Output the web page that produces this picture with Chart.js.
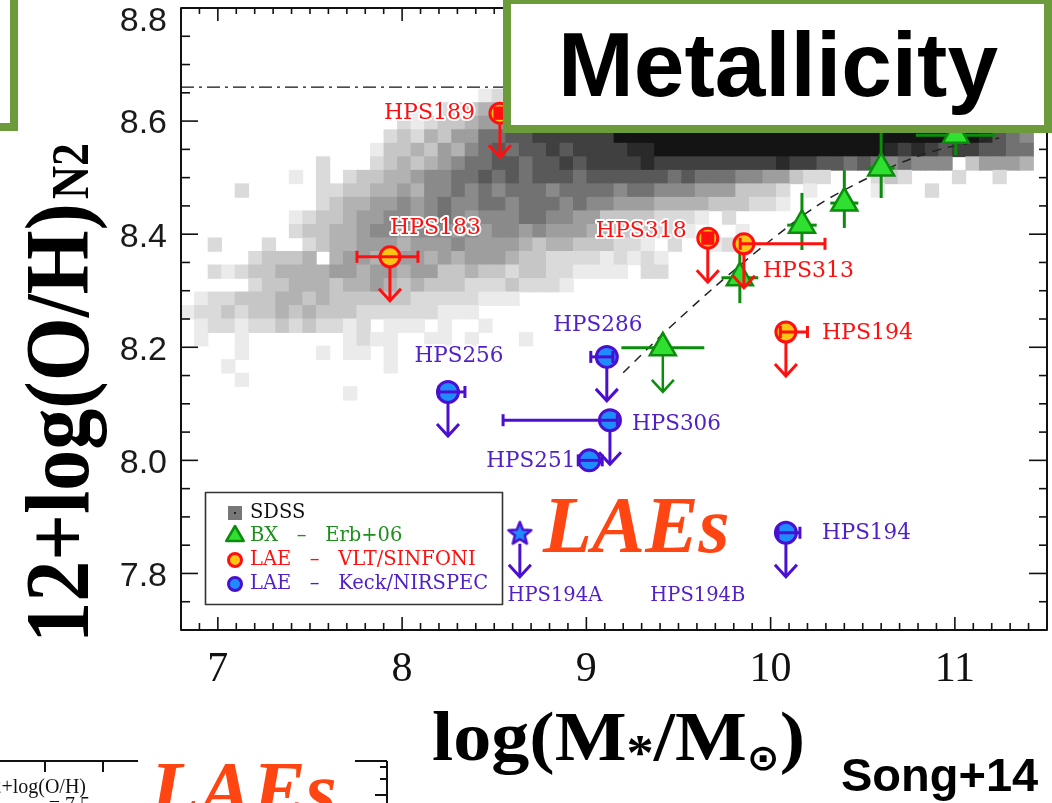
<!DOCTYPE html>
<html><head><meta charset="utf-8">
<script src="https://cdn.jsdelivr.net/npm/chart.js@4.4.1/dist/chart.umd.min.js"></script>
<style>html,body{margin:0;padding:0;background:#fff;overflow:hidden}canvas{display:block}</style>
</head><body>
<canvas id="c" width="1052" height="803"></canvas>
<script>
// ================= DATA =================
const xTicks = [7, 8, 9, 10, 11];
const yTicks = [7.8, 8.0, 8.2, 8.4, 8.6, 8.8];

// SDSS 2D histogram: grey level per bin (0 empty, 1..9,A,B light..dark); first row = bin row 39
const sdssMassRange = [6.8, 11.5];
const sdssMassBins = 64;
const sdssOHRange = [7.7, 8.8];
const sdssOHBins = 46;
const sdssTopRow = 39;
const sdssRows = [
  "00000000 00000000 00000012 00000000 00000000 00000000 00000000 00000000",
  "00000000 00000000 01022344 00000000 00000000 00000000 00000000 00000000",
  "00000000 00000000 21233455 00000000 00000000 00000000 00000000 00000000",
  "00000000 00000002 32435577 88999999 BBBBBBBB BBBBBBBB BBBBBBBB BBBA8760",
  "00000000 00000013 34354678 78898999 9AABBBBB BBBBBBBB BBBBA9A9 89988770",
  "00000000 00200023 43456778 87889899 99A99999 9999A998 87876766 60355540",
  "00000000 10202334 45667787 87888788 88887877 76655322 00023200 02002000",
  "00002000 00223344 54667676 77767777 67766655 53332010 00010002 00000000",
  "00000000 00234455 65676677 67776766 55544443 33221000 00000000 00000000",
  "00000000 12334556 65676566 67766553 33322210 20000000 00000000 00000000",
  "00000000 23344566 56665656 65655544 33322100 01000000 00000000 00000000",
  "00200020 02344555 45556555 54344333 22102001 21000000 00000000 00000000",
  "00000233 34045545 55454555 43322221 21210000 00000000 00000000 00000000",
  "00212334 44455455 45533433 23322111 10220000 00000000 00000000 00000000",
  "00000233 44434454 34333222 32221000 00000000 00000000 00000000 00000000",
  "01223334 43433333 32222211 10000000 00000000 00000000 00000000 00000000",
  "12232334 34333222 22211100 00000000 00000000 00000000 00000000 00000000",
  "01221223 23221201 11010010 00000000 00000000 00000000 00000000 00000000",
  "01001000 00001211 00110100 01000000 00000000 00000000 00000000 00000000",
  "00001000 00101101 00000000 00000000 00000000 00000000 00000000 00000000",
  "00010000 00000001 00000000 00000000 00000000 00000000 00000000 00000000",
  "00001000 00000000 00000000 00000000 00000000 00000000 00000000 00000000",
  "00000000 00001000 00000000 00000000 00000000 00000000 00000000 00000000"
];

// BX - Erb+06
const bxMass      = [9.415, 9.833, 10.17, 10.40, 10.60, 11.005];
const bxOH        = [8.199, 8.323, 8.416, 8.455, 8.517, 8.575];
const bxMassErr   = [0.225, 0.10, 0.08, 0.076, 0.073, 0.217];
const bxOHErrUp   = [0, 0.045, 0.057, 0.058, 0.062, 0.06];
const bxOHErrDn   = [0, 0.045, 0.044, 0.044, 0.053, 0.035];
const bxUpperLim  = [true, false, false, false, false, false];

// Erb+06 relation (dashed)
const fitMass = [9.2, 9.42, 9.69, 9.98, 10.25, 10.47, 10.72, 10.94, 11.24];
const fitOH   = [8.155, 8.225, 8.305, 8.384, 8.45, 8.49, 8.528, 8.552, 8.57];

// N2 saturation level (dash-dot)
const satMass = [6.8, 11.5];
const satOH   = [8.66, 8.66];

// LAE - VLT/SINFONI
const vltNames     = ['HPS189', 'HPS183', 'HPS318', 'HPS313', 'HPS194'];
const vltMass      = [8.531, 7.934, 9.659, 9.855, 10.083];
const vltOH        = [8.614, 8.360, 8.393, 8.383, 8.227];
const vltMassErrLo = [0.03, 0.179, 0.03, 0.02, 0.03];
const vltMassErrHi = [0.03, 0.152, 0.03, 0.44, 0.117];
const vltOHErr     = [0.01, 0, 0.01, 0, 0];
const vltUpperLim  = [true, true, true, true, true];

// LAE - Keck/NIRSPEC
const keckNames     = ['HPS286', 'HPS256', 'HPS306', 'HPS251', 'HPS194'];
const keckMass      = [9.111, 8.249, 9.128, 9.016, 10.083];
const keckOH        = [8.183, 8.121, 8.071, 8.000, 7.872];
const keckMassErrLo = [0.087, 0.05, 0.58, 0.06, 0.043];
const keckMassErrHi = [0.033, 0.092, 0.04, 0.07, 0.076];
const keckUpperLim  = [true, true, true, false, true];

// Keck star (HPS194A) and label-only object (HPS194B)
const starNames = ['HPS194A'];
const starMass  = [8.639];
const starOH    = [7.872];
const starUpperLim = [true];
const extraNames = ['HPS194B'];
const extraMass  = [9.605];
const extraOH    = [7.872];

// ================= STYLE / LAYOUT =================
const COL = {
  red: '#ff1010', orange: '#ffc414', purple: '#4a0fd0', blue: '#1e8cff', blueText: '#5020c8',
  green: '#0c8c0c', greenFill: '#30e030', greenText: '#1f8f1f', lae: '#ff4511', box: '#6b9b3a'
};
const SHADES = {'1':'#ebebeb','2':'#dadada','3':'#c6c6c6','4':'#b2b2b2','5':'#9e9e9e','6':'#8a8a8a',
  '7':'#727272','8':'#595959','9':'#404040','A':'#2a2a2a','B':'#141414'};
const vltLabelPos  = [[-25, 0, 'right'], [0, -29, 'left'], [-21, -7, 'right'], [19, 27, 'left'], [36, 1, 'left']];
const keckLabelPos = [[-9, -31, 'center'], [11, -36, 'center'], [22, 4, 'left'], [-14, 1, 'right'], [36, 1, 'left']];
const starLabelPos = [[35, 63, 'center']];
const extraLabelPos = [[0, 63, 'center']];
const ARROW = 44, CAP = 6;

// ================= BUILD =================
const cellW = (sdssMassRange[1] - sdssMassRange[0]) / sdssMassBins;
const cellH = (sdssOHRange[1] - sdssOHRange[0]) / sdssOHBins;
const sdssPts = [], sdssCols = [];
sdssRows.forEach((row, r) => {
  const s = row.replace(/ /g, '');
  const k = sdssTopRow - r;
  for (let j = 0; j < s.length; j++) {
    if (s[j] === '0') continue;
    sdssPts.push({x: sdssMassRange[0] + (j + 0.5) * cellW, y: sdssOHRange[0] + (k + 0.5) * cellH});
    sdssCols.push(SHADES[s[j]]);
  }
});
const zip = (xs, ys) => xs.map((x, i) => ({x, y: ys[i]}));

function makeStar(R, r, fill, stroke, lw) {
  const s = Math.ceil(2 * R + 2 * lw + 4);
  const cv = document.createElement('canvas'); cv.width = s; cv.height = s;
  const g = cv.getContext('2d');
  g.translate(s / 2, s / 2 + R * 0.1);
  g.beginPath();
  for (let i = 0; i < 10; i++) {
    const a = -Math.PI / 2 + i * Math.PI / 5, rr = i % 2 ? r : R;
    g.lineTo(rr * Math.cos(a), rr * Math.sin(a));
  }
  g.closePath(); g.fillStyle = fill; g.fill();
  g.lineWidth = lw; g.lineJoin = 'round'; g.strokeStyle = stroke; g.stroke();
  return cv;
}
const starImg = makeStar(12, 5.2, COL.blue, COL.purple, 2.5);

function ln(ctx, x1, y1, x2, y2) { ctx.beginPath(); ctx.moveTo(x1, y1); ctx.lineTo(x2, y2); ctx.stroke(); }
function arrowDown(ctx, x, y0, y1) {
  ln(ctx, x, y0, x, y1);
  ctx.beginPath(); ctx.moveTo(x - 11, y1 - 12); ctx.lineTo(x, y1); ctx.lineTo(x + 11, y1 - 12); ctx.stroke();
}
function hErr(ctx, xl, xr, y) {
  ln(ctx, xl, y, xr, y); ln(ctx, xl, y - CAP, xl, y + CAP); ln(ctx, xr, y - CAP, xr, y + CAP);
}
function label(ctx, text, x, y, color, size, align) {
  ctx.font = size + 'px "DejaVu Serif"'; ctx.textAlign = align; ctx.textBaseline = 'middle';
  ctx.lineJoin = 'round'; ctx.strokeStyle = '#fff'; ctx.lineWidth = 4; ctx.strokeText(text, x, y);
  ctx.fillStyle = color; ctx.fillText(text, x, y);
}
// draw text stretched along its direction to a target length
function fitText(ctx, text, x, y, target) {
  const w = ctx.measureText(text).width;
  ctx.save(); ctx.translate(x, y); ctx.scale(target / w, 1); ctx.fillText(text, 0, 0); ctx.restore();
}

const overlay = {
  id: 'overlay',
  beforeDatasetDraw(chart, args) {
    if (args.index !== 3) return;
    const ctx = chart.ctx, X = v => chart.scales.x.getPixelForValue(v), Y = v => chart.scales.y.getPixelForValue(v);
    ctx.save(); ctx.strokeStyle = COL.green; ctx.lineWidth = 3; ctx.lineCap = 'butt';
    bxMass.forEach((m, i) => {
      const x = X(m), y = Y(bxOH[i]);
      ln(ctx, X(m - bxMassErr[i]), y, X(m + bxMassErr[i]), y);
      if (bxUpperLim[i]) { ctx.lineWidth = 2.5; arrowDown(ctx, x, y, y + ARROW); ctx.lineWidth = 3; }
      else ln(ctx, x, Y(bxOH[i] + bxOHErrUp[i]), x, Y(bxOH[i] - bxOHErrDn[i]));
    });
    ctx.restore();
  },
  afterDatasetDraw(chart, args) {
    const ctx = chart.ctx, X = v => chart.scales.x.getPixelForValue(v), Y = v => chart.scales.y.getPixelForValue(v);
    ctx.save(); ctx.lineWidth = 3; ctx.lineCap = 'butt'; ctx.lineJoin = 'miter';
    if (args.index === 0) {
      ctx.strokeStyle = COL.red; ctx.fillStyle = COL.red;
      vltMass.forEach((m, i) => {
        const x = X(m), y = Y(vltOH[i]);
        if (vltOHErr[i] > 0) {
          const xl = X(m - vltMassErrLo[i]), xr = X(m + vltMassErrHi[i]);
          const yt = Y(vltOH[i] + vltOHErr[i]), yb = Y(vltOH[i] - vltOHErr[i]);
          ctx.fillRect(xl - 1, yt - 1, xr - xl + 2, yb - yt + 2);
        } else {
          hErr(ctx, X(m - vltMassErrLo[i]), X(m + vltMassErrHi[i]), y);
        }
        if (vltUpperLim[i]) arrowDown(ctx, x, y + 11, y + ARROW);
      });
    } else if (args.index === 1) {
      ctx.strokeStyle = COL.purple;
      keckMass.forEach((m, i) => {
        const x = X(m), y = Y(keckOH[i]);
        hErr(ctx, X(m - keckMassErrLo[i]), X(m + keckMassErrHi[i]), y);
        if (keckUpperLim[i]) arrowDown(ctx, x, y + 11, y + ARROW);
      });
    } else if (args.index === 2) {
      ctx.strokeStyle = COL.purple;
      starMass.forEach((m, i) => { const x = X(m), y = Y(starOH[i]); if (starUpperLim[i]) arrowDown(ctx, x, y + 11, y + ARROW); });
    }
    ctx.restore();
  },
  afterDatasetsDraw(chart) {
    const ctx = chart.ctx, X = v => chart.scales.x.getPixelForValue(v), Y = v => chart.scales.y.getPixelForValue(v);
    const a = chart.chartArea;
    ctx.save();
    // labels
    vltNames.forEach((n, i) => { const p = vltLabelPos[i]; label(ctx, n, X(vltMass[i]) + p[0], Y(vltOH[i]) + p[1], COL.red, 22, p[2]); });
    keckNames.forEach((n, i) => { const p = keckLabelPos[i]; label(ctx, n, X(keckMass[i]) + p[0], Y(keckOH[i]) + p[1], COL.blueText, 21.5, p[2]); });
    starNames.forEach((n, i) => { const p = starLabelPos[i]; label(ctx, n, X(starMass[i]) + p[0], Y(starOH[i]) + p[1], COL.blueText, 19.5, p[2]); });
    extraNames.forEach((n, i) => { const p = extraLabelPos[i]; label(ctx, n, X(extraMass[i]) + p[0], Y(extraOH[i]) + p[1], COL.blueText, 19.5, p[2]); });
    // LAEs
    ctx.font = 'italic bold 80px "Liberation Serif"'; ctx.textAlign = 'left'; ctx.textBaseline = 'alphabetic';
    ctx.fillStyle = COL.lae; ctx.fillText('LAEs', 543, 552);
    // legend
    ctx.fillStyle = '#fff'; ctx.fillRect(205, 492, 298, 113);
    ctx.strokeStyle = '#333'; ctx.lineWidth = 1.6; ctx.strokeRect(205.5, 492.5, 297, 112);
    const lx = 235, tx = 250, ly = [513, 536, 560, 584];
    ctx.fillStyle = '#777'; ctx.fillRect(lx - 7, ly[0] - 7, 14, 14);
    ctx.fillStyle = '#222'; ctx.fillRect(lx - 1, ly[0] - 1, 2, 2);
    ctx.beginPath(); ctx.moveTo(lx, ly[1] - 10); ctx.lineTo(lx + 8.7, ly[1] + 5); ctx.lineTo(lx - 8.7, ly[1] + 5); ctx.closePath();
    ctx.fillStyle = COL.greenFill; ctx.fill(); ctx.strokeStyle = COL.green; ctx.lineWidth = 2.5; ctx.stroke();
    ctx.beginPath(); ctx.arc(lx, ly[2], 6.5, 0, 2 * Math.PI); ctx.fillStyle = COL.orange; ctx.fill(); ctx.strokeStyle = COL.red; ctx.lineWidth = 3; ctx.stroke();
    ctx.beginPath(); ctx.arc(lx, ly[3], 6.5, 0, 2 * Math.PI); ctx.fillStyle = COL.blue; ctx.fill(); ctx.strokeStyle = COL.purple; ctx.lineWidth = 3; ctx.stroke();
    ctx.font = '19.5px "DejaVu Serif"'; ctx.textAlign = 'left'; ctx.textBaseline = 'middle';
    ctx.fillStyle = '#111'; ctx.fillText('SDSS', tx, ly[0]);
    ctx.fillStyle = COL.greenText; ctx.fillText('BX   \u2013   Erb+06', tx, ly[1]);
    ctx.fillStyle = COL.red; ctx.fillText('LAE   \u2013   VLT/SINFONI', tx, ly[2]);
    ctx.fillStyle = COL.blueText; ctx.fillText('LAE   \u2013   Keck/NIRSPEC', tx, ly[3]);
    // frame + ticks
    ctx.strokeStyle = '#111'; ctx.lineWidth = 2;
    ctx.strokeRect(a.left, a.top, a.right - a.left, a.bottom - a.top);
    ctx.lineWidth = 1.6;
    for (let i = 68; i <= 115; i++) {
      const x = X(i / 10), major = i % 10 === 0;
      ln(ctx, x, a.bottom, x, a.bottom - (major ? 13 : 7));
      ln(ctx, x, a.top, x, a.top + (major ? 13 : 6));
    }
    for (let i = 154; i <= 176; i++) {
      const y = Y(i / 20), major = i % 4 === 0;
      ln(ctx, a.left, y, a.left + (major ? 17 : 9), y);
      ln(ctx, a.right, y, a.right - (major ? 18 : 8), y);
    }
    // tick labels from the scales
    ctx.font = '34px "Liberation Sans"'; ctx.fillStyle = '#1a1a1a'; ctx.textAlign = 'right'; ctx.textBaseline = 'middle';
    yTicks.forEach(v => ctx.fillText(v.toFixed(1), a.left - 14, Y(v) + (v >= 8.79 ? 14 : 3)));
    ctx.font = '42px "Liberation Serif"'; ctx.fillStyle = '#111'; ctx.textAlign = 'center';
    xTicks.forEach(v => ctx.fillText(String(v), X(v), a.bottom + 40));
    ctx.restore();
  },
  afterDraw(chart) {
    const ctx = chart.ctx;
    ctx.save();
    // y title
    ctx.translate(88, 643); ctx.rotate(-Math.PI / 2);
    ctx.fillStyle = '#000'; ctx.textAlign = 'left'; ctx.textBaseline = 'alphabetic';
    ctx.font = 'bold 90px "Liberation Serif"'; fitText(ctx, '12+log(O/H)', 0, 0, 440);
    ctx.font = 'bold 52px "Liberation Serif"'; fitText(ctx, 'N2', 444, 0, 56);
    ctx.restore();
    ctx.save();
    // x title
    const parts = [['log(M', 70, 0], ['*', 50, 9], ['/M', 70, 0], ['\u2299', 36, 10], [')', 70, 0]];
    let tot = 0;
    parts.forEach(p => { ctx.font = 'bold ' + p[1] + 'px "Liberation Serif", "DejaVu Sans"'; tot += ctx.measureText(p[0]).width; });
    const sx = 373 / tot;
    ctx.translate(432, 760); ctx.scale(sx, 1);
    let x = 0;
    ctx.fillStyle = '#000'; ctx.textAlign = 'left'; ctx.textBaseline = 'alphabetic';
    parts.forEach(p => { ctx.font = 'bold ' + p[1] + 'px "Liberation Serif", "DejaVu Sans"'; ctx.fillText(p[0], x, p[2]); x += ctx.measureText(p[0]).width; });
    ctx.restore();
    ctx.save();
    // Song+14
    ctx.fillStyle = '#000'; ctx.textAlign = 'left'; ctx.textBaseline = 'alphabetic';
    ctx.font = 'bold 47px "Liberation Sans"'; ctx.fillText('Song+14', 841, 791);
    // Metallicity box
    ctx.fillStyle = '#fff'; ctx.fillRect(503, -4, 549, 137);
    ctx.strokeStyle = COL.box; ctx.lineWidth = 8; ctx.strokeRect(507, 0, 541, 129);
    ctx.fillStyle = '#000'; ctx.font = 'bold 91px "Liberation Sans"'; ctx.textAlign = 'center';
    ctx.fillText('Metallicity', 778, 96);
    // top-left box fragment
    ctx.fillStyle = '#fff'; ctx.fillRect(0, 0, 14, 127);
    ctx.strokeRect(-10, -10, 24, 137);
    // bottom-left inset fragment
    ctx.strokeStyle = '#111'; ctx.lineWidth = 2;
    ln(ctx, 0, 761, 138, 761); ln(ctx, 45, 761, 45, 772); ln(ctx, 103, 761, 103, 772);
    ln(ctx, 355, 761, 387, 761); ln(ctx, 387, 761, 387, 803);
    ln(ctx, 380, 767, 387, 767); ln(ctx, 380, 779, 387, 779); ln(ctx, 375, 795, 387, 795);
    ctx.fillStyle = '#111'; ctx.font = '20px "Liberation Serif"'; ctx.textAlign = 'right';
    ctx.fillText('12+log(O/H)', 86, 793); ctx.fillText('= 7.5', 90, 811);
    ctx.fillStyle = COL.lae; ctx.font = 'italic bold 80px "Liberation Serif"'; ctx.textAlign = 'left';
    ctx.fillText('LAEs', 150, 817);
    ctx.restore();
  }
};

new Chart(document.getElementById('c'), {
  type: 'scatter',
  data: {
    datasets: [
      { label: 'LAE - VLT/SINFONI', data: zip(vltMass, vltOH), order: 1, pointStyle: 'circle', pointRadius: 10,
        pointBorderWidth: 3, pointBackgroundColor: COL.orange, pointBorderColor: COL.red },
      { label: 'LAE - Keck/NIRSPEC', data: zip(keckMass, keckOH), order: 1, pointStyle: 'circle', pointRadius: 10.5,
        pointBorderWidth: 3, pointBackgroundColor: COL.blue, pointBorderColor: COL.purple },
      { label: 'LAE - Keck/NIRSPEC (star)', data: zip(starMass, starOH), order: 1, pointStyle: starImg, pointRadius: 12 },
      { label: 'BX - Erb+06', data: zip(bxMass, bxOH), order: 3, pointStyle: 'triangle', pointRadius: 15,
        pointBorderWidth: 2.5, pointBackgroundColor: COL.greenFill, pointBorderColor: COL.green },
      { label: 'Erb+06 fit', data: zip(fitMass, fitOH), order: 5, showLine: true, pointRadius: 0,
        borderColor: '#222', borderWidth: 1.5, borderDash: [9, 7], tension: 0.3, fill: false },
      { label: 'N2 saturation', data: zip(satMass, satOH), order: 5, showLine: true, pointRadius: 0,
        borderColor: '#111', borderWidth: 1.4, borderDash: [13, 5, 3, 5], fill: false },
      { label: 'SDSS', data: sdssPts, order: 10, pointStyle: 'rect', pointBorderWidth: 0,
        pointBackgroundColor: sdssCols,
        pointRadius: (c) => { const xs = c.chart.scales.x; if (!xs) return 9.6;
          const w = Math.abs(xs.getPixelForValue(sdssMassRange[0] + cellW) - xs.getPixelForValue(sdssMassRange[0]));
          return (w + 0.8) / Math.SQRT2; } }
    ]
  },
  options: {
    responsive: false, animation: false, events: [], devicePixelRatio: 1,
    layout: { autoPadding: false, padding: { top: 8, right: 5, left: 0, bottom: 0 } },
    plugins: { legend: { display: false }, tooltip: { enabled: false } },
    scales: {
      x: { type: 'linear', position: 'bottom', min: 6.8, max: 11.5,
        grid: { display: false, drawTicks: false }, border: { display: false },
        afterBuildTicks: s => { s.ticks = xTicks.map(v => ({value: v})); },
        afterFit: s => { s.height = 173; s.paddingLeft = 0; s.paddingRight = 0; },
        ticks: { display: false } },
      y: { type: 'linear', position: 'left', min: 7.7, max: 8.8,
        grid: { display: false, drawTicks: false }, border: { display: false },
        afterBuildTicks: s => { s.ticks = yTicks.map(v => ({value: v})); },
        afterFit: s => { s.width = 181; s.paddingTop = 0; s.paddingBottom = 0; },
        ticks: { display: false } }
    }
  },
  plugins: [overlay]
});
</script>
</body></html>
